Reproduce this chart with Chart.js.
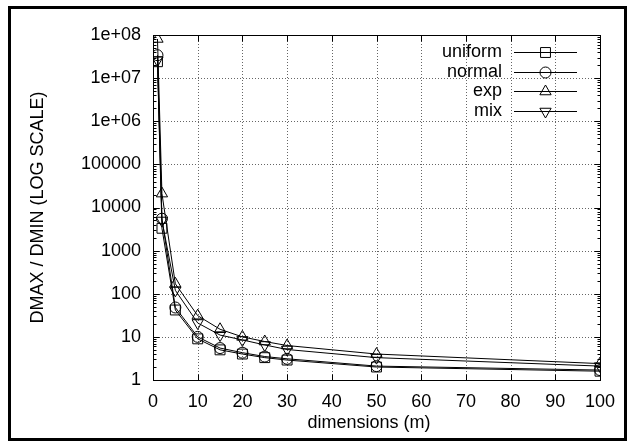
<!DOCTYPE html>
<html><head><meta charset="utf-8">
<script src="https://cdn.jsdelivr.net/npm/chart.js@4"></script>
<style>html,body{margin:0;padding:0;background:#fff}#wrap{width:634px;height:448px;position:relative}</style>
</head><body><div id="wrap"><canvas id="c" width="634" height="448"></canvas></div>
<script>
// ---- data ----
const dims = [1, 2, 5, 10, 15, 20, 25, 30, 50, 100];
const uniform = [2.4e7, 3300, 42, 9, 5, 4, 3.3, 2.9, 2.0, 1.6];
const normal  = [3.4e7, 5500, 48, 10, 5.5, 4.3, 3.5, 3.1, 2.1, 1.7];
const expo    = [8.1e7, 21000, 170, 31, 15, 10, 7.8, 6.3, 4.0, 2.4];
const mix     = [2.6e7, 5000, 120, 21, 11, 8.5, 6.5, 5.1, 3.3, 2.1];
const seriesNames = ['uniform', 'normal', 'exp', 'mix'];
const xTicks = [0, 10, 20, 30, 40, 50, 60, 70, 80, 90, 100];
const yTicks = [1, 10, 100, 1000, 10000, 100000, 1e6, 1e7, 1e8];
const yTickLabels = ['1', '10', '100', '1000', '10000', '100000', '1e+06', '1e+07', '1e+08'];
const xTitle = 'dimensions (m)';
const yTitle = 'DMAX / DMIN (LOG SCALE)';

const FONT = "'Liberation Sans', Arial, Helvetica, sans-serif";
const FS = 18;

const styles = [
  {pointStyle: 'rect', r: 7, rot: 0},
  {pointStyle: 'circle', r: 5.5, rot: 0},
  {pointStyle: 'triangle', r: 6.5, rot: 0},
  {pointStyle: 'triangle', r: 6.5, rot: 180}
];
const seriesVals = [uniform, normal, expo, mix];

const datasets = seriesVals.map((vals, i) => ({
  label: seriesNames[i],
  data: dims.map((d, j) => ({x: d, y: vals[j]})),
  borderColor: '#000',
  borderWidth: 1,
  backgroundColor: 'rgba(0,0,0,0)',
  pointStyle: styles[i].pointStyle,
  pointRadius: styles[i].r,
  pointRotation: styles[i].rot,
  pointBorderColor: '#000',
  pointBorderWidth: 1,
  pointBackgroundColor: 'rgba(0,0,0,0)',
  tension: 0,
  fill: false
}));

const framePlugin = {
  id: 'gnuplotFrame',
  beforeDatasetsDraw(chart) {
    const ctx = chart.ctx;
    const a = chart.chartArea;
    const xs = chart.scales.x, ys = chart.scales.y;
    ctx.save();
    // dotted grid
    ctx.strokeStyle = '#666';
    ctx.lineWidth = 1;
    ctx.setLineDash([1, 2]);
    ctx.beginPath();
    xTicks.forEach(v => {
      const px = Math.round(xs.getPixelForValue(v)) + 0.5;
      ctx.moveTo(px, a.top); ctx.lineTo(px, a.bottom);
    });
    yTicks.forEach(v => {
      const py = Math.round(ys.getPixelForValue(v)) + 0.5;
      ctx.moveTo(a.left, py); ctx.lineTo(a.right, py);
    });
    ctx.stroke();
    ctx.setLineDash([]);
    // ticks (inward, mirrored)
    ctx.strokeStyle = '#000';
    ctx.beginPath();
    const L = Math.round(a.left) + 0.5, R = Math.round(a.right) + 0.5;
    const T = Math.round(a.top) + 0.5, B = Math.round(a.bottom) + 0.5;
    xTicks.forEach(v => {
      const px = Math.round(xs.getPixelForValue(v)) + 0.5;
      ctx.moveTo(px, B); ctx.lineTo(px, B - 6);
      ctx.moveTo(px, T); ctx.lineTo(px, T + 6);
    });
    for (let e = 0; e < 8; e++) {
      for (let m = 1; m < 10; m++) {
        const v = m * Math.pow(10, e);
        const py = Math.round(ys.getPixelForValue(v)) + 0.5;
        const len = m === 1 ? 6 : 3;
        ctx.moveTo(L, py); ctx.lineTo(L + len, py);
        ctx.moveTo(R, py); ctx.lineTo(R - len, py);
      }
    }
    ctx.stroke();
    // plot border
    ctx.strokeRect(L, T, R - L, B - T);
    // outer frame
    ctx.lineWidth = 3;
    ctx.strokeRect(9.5, 7.5, 616, 432);
    // axis titles
    ctx.fillStyle = '#000';
    ctx.font = FS + 'px ' + FONT;
    ctx.textAlign = 'center';
    ctx.textBaseline = 'alphabetic';
    ctx.fillText(xTitle, 369, 428);
    ctx.textBaseline = 'middle';
    ctx.translate(38, (a.top + a.bottom) / 2);
    ctx.rotate(-Math.PI / 2);
    ctx.fillText(yTitle, 0, 0);
    ctx.restore();
  },
  afterDatasetsDraw(chart) {
    const ctx = chart.ctx;
    ctx.save();
    ctx.font = FS + 'px ' + FONT;
    ctx.textAlign = 'right';
    ctx.textBaseline = 'alphabetic';
    const rows = [52, 72, 91, 111];
    chart.data.datasets.forEach((ds, i) => {
      const y = Math.round(rows[i]) + 0.5;
      ctx.fillStyle = '#000';
      ctx.fillText(ds.label, 502, y + 4.5);
      ctx.strokeStyle = '#000';
      ctx.lineWidth = 1;
      ctx.beginPath();
      ctx.moveTo(514, y);
      ctx.lineTo(577, y);
      ctx.stroke();
      ctx.fillStyle = 'rgba(0,0,0,0)';
      Chart.helpers.drawPoint(ctx, {
        pointStyle: ds.pointStyle, rotation: ds.pointRotation,
        radius: ds.pointRadius, borderWidth: 1
      }, 545.5, y);
    });
    ctx.restore();
  }
};

new Chart(document.getElementById('c'), {
  type: 'line',
  data: {datasets},
  options: {
    responsive: false,
    animation: false,
    devicePixelRatio: 1,
    layout: {padding: {top: 35, right: 34, left: 0, bottom: 0}},
    plugins: {legend: {display: false}, tooltip: {enabled: false}},
    scales: {
      x: {
        type: 'linear', min: 0, max: 100,
        afterBuildTicks: s => { s.ticks = xTicks.map(v => ({value: v})); },
        afterFit: s => { s.height = 68; },
        grid: {display: false, drawTicks: false},
        border: {display: false},
        ticks: {color: '#000', font: {family: FONT, size: FS}, padding: 11, maxRotation: 0, autoSkip: false}
      },
      y: {
        type: 'logarithmic', min: 1, max: 1e8,
        afterBuildTicks: s => { s.ticks = yTicks.map(v => ({value: v})); },
        afterFit: s => { s.width = 153; },
        grid: {display: false, drawTicks: false},
        border: {display: false},
        ticks: {color: '#000', font: {family: FONT, size: FS}, padding: 12, autoSkip: false,
          callback: (v, i) => yTickLabels[i]}
      }
    }
  },
  plugins: [framePlugin]
});
</script></body></html>
